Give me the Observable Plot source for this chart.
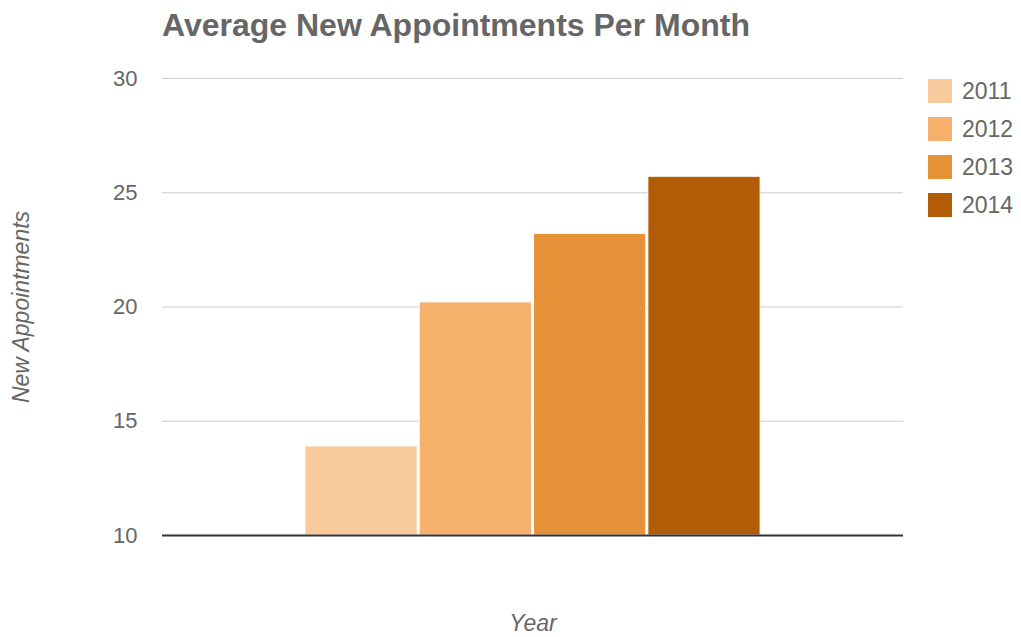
<!DOCTYPE html>
<html>
<head>
<meta charset="utf-8">
<script src="https://cdn.jsdelivr.net/npm/d3@7"></script>
<script src="https://cdn.jsdelivr.net/npm/@observablehq/plot@0.6"></script>
<style>
  html, body { margin: 0; padding: 0; background: #fff; }
  body { font-family: "Liberation Sans", Arial, sans-serif; }
  #wrap { position: relative; width: 1021px; height: 637px; }
  #title { position: absolute; left: 162px; top: 7px; font-size: 32px; line-height: 1.15; font-weight: bold; color: #666; white-space: nowrap; }
  #legend { position: absolute; left: 928px; top: 79px; }
  .item { display: flex; align-items: center; height: 24px; margin-bottom: 14px; }
  .sw { width: 24px; height: 24px; margin-right: 10px; }
  .lb { font-size: 23px; color: #666; }
</style>
</head>
<body>
<div id="wrap">
  <div id="chart"></div>
  <div id="title"></div>
  <div id="legend"></div>
</div>
<script>
const titleText = "Average New Appointments Per Month";
const years = ["2011", "2012", "2013", "2014"];
const values = [13.9, 20.2, 23.2, 25.7];
const colors = ["#f8c99b", "#f5b06b", "#e69239", "#b35c06"];
const yTicks = [10, 15, 20, 25, 30];
const yLabel = "New Appointments";
const xLabel = "Year";

const data = years.map((y, i) => ({year: y, value: values[i]}));

const chart = Plot.plot({
  width: 1021,
  height: 637,
  marginTop: 78,
  marginBottom: 102,
  marginLeft: 162,
  marginRight: 118,
  style: {fontFamily: "'Liberation Sans', Arial, sans-serif", color: "#666", background: "#fff"},
  x: {type: "band", domain: years, paddingInner: 0.018, paddingOuter: 1.25, round: false, axis: null},
  y: {domain: [10, 30]},
  color: {domain: years, range: colors},
  marks: [
    Plot.gridY(yTicks, {stroke: "#ccc", strokeOpacity: 1, strokeWidth: 1.2}),
    Plot.axisY({ticks: yTicks, tickSize: 0, tickPadding: 25, fontSize: 22, label: yLabel, labelAnchor: "center", labelOffset: 150, labelArrow: "none"}),
    Plot.axisX({ticks: [], tickSize: 0, label: xLabel, labelAnchor: "center", labelOffset: 95, labelArrow: "none"}),
    Plot.barY(data, {x: "year", y1: 10, y2: "value", fill: "year", stroke: "white", strokeWidth: 1}),
    Plot.ruleY([10], {stroke: "#333", strokeWidth: 2})
  ]
});
chart.querySelectorAll('g[aria-label="y-axis label"] text, g[aria-label="x-axis label"] text').forEach(t => {
  t.style.fontSize = "23px";
  t.style.fontStyle = "italic";
});
document.getElementById("chart").appendChild(chart);
document.getElementById("title").textContent = titleText;

const legend = document.getElementById("legend");
years.forEach((y, i) => {
  const it = document.createElement("div");
  it.className = "item";
  const sw = document.createElement("div");
  sw.className = "sw";
  sw.style.background = colors[i];
  const lb = document.createElement("div");
  lb.className = "lb";
  lb.textContent = y;
  it.appendChild(sw);
  it.appendChild(lb);
  legend.appendChild(it);
});
</script>
</body>
</html>
